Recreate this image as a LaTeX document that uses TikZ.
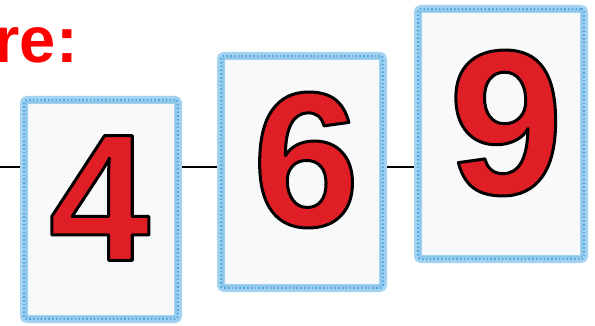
\documentclass[tikz,border=0pt]{standalone}
\usepackage{fontspec}
\setmainfont{Liberation Sans}
\usetikzlibrary{calc}

\definecolor{cardbg}{HTML}{F7F9FA}
\definecolor{bandblue}{HTML}{A3D3F0}
\definecolor{dotblue}{HTML}{4FA6DE}
\definecolor{digitred}{HTML}{E01E26}

% red digit with a black rim
\newcommand{\rimdigit}[1]{{\color{digitred}\special{pdf:code 0 0 0 RG 1 j 3 w 2 Tr}#1\special{pdf:code 0 Tr}}}

\tikzset{
  card/.style={rectangle,rounded corners=3,fill=cardbg,draw=bandblue,line width=8,
    postaction={draw=dotblue,line width=2.2,dash pattern=on 1.6 off 2.2}},
  cardline/.style={draw=dotblue!70,line width=1.1},
  digit/.style={inner sep=0,font=\bfseries},
  link/.style={black,line width=2.4}
}

\begin{document}
\begin{tikzpicture}[x=1pt,y=-1pt]
\useasboundingbox (0,0) rectangle (595,326);
\clip (0,0) rectangle (595,326);

\coordinate (start) at (0,167);

\node[anchor=base east,inner sep=0,text=red,font=\fontsize{65}{65}\bfseries] (title) at (78,63) {re:};

\node[card,minimum width=154,minimum height=219] (one) at (101,209.5) {};
\node[card,minimum width=162,minimum height=232] (two) at (302,172) {};
\node[card,minimum width=166,minimum height=250] (three) at (501,134) {};

\foreach \c in {one,two,three}
  \draw[cardline,rounded corners=2] ($(\c.north west)+(6,6)$) rectangle ($(\c.south east)+(-6,-6)$);

% links between the cards
\draw[link] (start) -- (start -| one.west);
\draw[link] (one.east |- start) -- (two.west |- start);
\draw[link] (two.east |- start) -- (three.west |- start);

\node[digit,font=\fontsize{181}{181}\bfseries] (four) at ($(one.center)+(-1.5,-11.5)$) {\rimdigit{4}};
\node[digit,font=\fontsize{192}{192}\bfseries] (six) at ($(two.center)+(4,-12)$) {\rimdigit{6}};
\node[digit,font=\fontsize{206}{206}\bfseries] (nine) at ($(three.center)+(5,-11)$) {\rimdigit{9}};

\end{tikzpicture}
\end{document}
